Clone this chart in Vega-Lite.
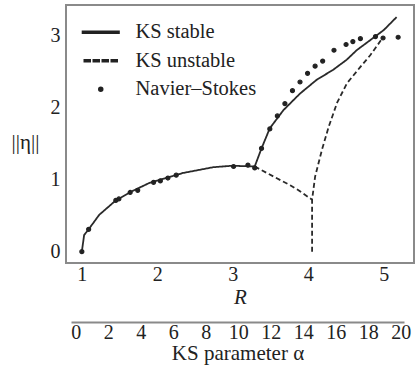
{
  "$schema": "https://vega.github.io/schema/vega-lite/v6.json",
  "width": 348,
  "height": 258,
  "autosize": {"type": "none"},
  "padding": {"left": 66, "top": 5, "right": 2, "bottom": 109},
  "background": "white",
  "config": {
    "view": {"stroke": "#8a8a8a", "strokeWidth": 2},
    "font": "Liberation Serif",
    "axis": {
      "grid": false, "ticks": false, "domain": false,
      "labelFont": "Liberation Serif", "labelFontSize": 20, "labelColor": "#222",
      "titleFont": "Liberation Serif", "titleFontSize": 21, "titleColor": "#222", "titleFontWeight": "normal"
    },
    "legend": {
      "orient": "none", "legendX": 24.5, "legendY": 17, "padding": 0,
      "labelFont": "Liberation Serif", "labelFontSize": 20.5, "labelColor": "#222",
      "labelOffset": 24.5, "rowPadding": 7.5,
      "symbolSize": 100, "symbolOpacity": 1
    }
  },
  "datasets": {
    "lines": [
      {"series": "KS stable", "seg": "s", "i": 1, "R": 1.0, "eta": 0.0},
      {"series": "KS stable", "seg": "s", "i": 2, "R": 1.03, "eta": 0.23},
      {"series": "KS stable", "seg": "s", "i": 3, "R": 1.09, "eta": 0.31},
      {"series": "KS stable", "seg": "s", "i": 4, "R": 1.23, "eta": 0.51},
      {"series": "KS stable", "seg": "s", "i": 5, "R": 1.45, "eta": 0.71},
      {"series": "KS stable", "seg": "s", "i": 6, "R": 1.67, "eta": 0.84},
      {"series": "KS stable", "seg": "s", "i": 7, "R": 1.89, "eta": 0.95},
      {"series": "KS stable", "seg": "s", "i": 8, "R": 2.11, "eta": 1.02},
      {"series": "KS stable", "seg": "s", "i": 9, "R": 2.34, "eta": 1.09},
      {"series": "KS stable", "seg": "s", "i": 10, "R": 2.74, "eta": 1.17},
      {"series": "KS stable", "seg": "s", "i": 11, "R": 2.99, "eta": 1.19},
      {"series": "KS stable", "seg": "s", "i": 12, "R": 3.29, "eta": 1.18},
      {"series": "KS stable", "seg": "s", "i": 13, "R": 3.38, "eta": 1.43},
      {"series": "KS stable", "seg": "s", "i": 14, "R": 3.49, "eta": 1.71},
      {"series": "KS stable", "seg": "s", "i": 15, "R": 3.67, "eta": 1.96},
      {"series": "KS stable", "seg": "s", "i": 16, "R": 3.89, "eta": 2.19},
      {"series": "KS stable", "seg": "s", "i": 17, "R": 4.11, "eta": 2.38},
      {"series": "KS stable", "seg": "s", "i": 18, "R": 4.33, "eta": 2.52},
      {"series": "KS stable", "seg": "s", "i": 19, "R": 4.51, "eta": 2.66},
      {"series": "KS stable", "seg": "s", "i": 20, "R": 4.64, "eta": 2.79},
      {"series": "KS stable", "seg": "s", "i": 21, "R": 4.82, "eta": 2.93},
      {"series": "KS stable", "seg": "s", "i": 22, "R": 5.0, "eta": 3.07},
      {"series": "KS stable", "seg": "s", "i": 23, "R": 5.17, "eta": 3.25},
      {"series": "KS unstable", "seg": "a", "i": 1, "R": 3.29, "eta": 1.18},
      {"series": "KS unstable", "seg": "a", "i": 2, "R": 3.45, "eta": 1.09},
      {"series": "KS unstable", "seg": "a", "i": 3, "R": 3.76, "eta": 0.92},
      {"series": "KS unstable", "seg": "a", "i": 4, "R": 3.87, "eta": 0.85},
      {"series": "KS unstable", "seg": "a", "i": 5, "R": 4.05, "eta": 0.72},
      {"series": "KS unstable", "seg": "b", "i": 1, "R": 4.05, "eta": 0.0},
      {"series": "KS unstable", "seg": "b", "i": 2, "R": 4.05, "eta": 0.72},
      {"series": "KS unstable", "seg": "b", "i": 3, "R": 4.09, "eta": 1.04},
      {"series": "KS unstable", "seg": "b", "i": 4, "R": 4.18, "eta": 1.41},
      {"series": "KS unstable", "seg": "b", "i": 5, "R": 4.27, "eta": 1.73},
      {"series": "KS unstable", "seg": "b", "i": 6, "R": 4.38, "eta": 2.06},
      {"series": "KS unstable", "seg": "b", "i": 7, "R": 4.51, "eta": 2.33},
      {"series": "KS unstable", "seg": "b", "i": 8, "R": 4.69, "eta": 2.56},
      {"series": "KS unstable", "seg": "b", "i": 9, "R": 4.82, "eta": 2.72},
      {"series": "KS unstable", "seg": "b", "i": 10, "R": 4.95, "eta": 2.91},
      {"series": "KS unstable", "seg": "b", "i": 11, "R": 4.99, "eta": 2.98}
    ],
    "ns": [
      {"series": "Navier–Stokes", "R": 1.0, "eta": 0.0},
      {"series": "Navier–Stokes", "R": 1.09, "eta": 0.31},
      {"series": "Navier–Stokes", "R": 1.45, "eta": 0.71},
      {"series": "Navier–Stokes", "R": 1.49, "eta": 0.73},
      {"series": "Navier–Stokes", "R": 1.64, "eta": 0.82},
      {"series": "Navier–Stokes", "R": 1.74, "eta": 0.85},
      {"series": "Navier–Stokes", "R": 1.95, "eta": 0.96},
      {"series": "Navier–Stokes", "R": 2.04, "eta": 0.98},
      {"series": "Navier–Stokes", "R": 2.14, "eta": 1.02},
      {"series": "Navier–Stokes", "R": 2.25, "eta": 1.06},
      {"series": "Navier–Stokes", "R": 3.01, "eta": 1.18},
      {"series": "Navier–Stokes", "R": 3.2, "eta": 1.2},
      {"series": "Navier–Stokes", "R": 3.29, "eta": 1.16},
      {"series": "Navier–Stokes", "R": 3.38, "eta": 1.43},
      {"series": "Navier–Stokes", "R": 3.49, "eta": 1.7},
      {"series": "Navier–Stokes", "R": 3.59, "eta": 1.88},
      {"series": "Navier–Stokes", "R": 3.69, "eta": 2.05},
      {"series": "Navier–Stokes", "R": 3.79, "eta": 2.23},
      {"series": "Navier–Stokes", "R": 3.89, "eta": 2.35},
      {"series": "Navier–Stokes", "R": 3.99, "eta": 2.47},
      {"series": "Navier–Stokes", "R": 4.09, "eta": 2.57},
      {"series": "Navier–Stokes", "R": 4.19, "eta": 2.64},
      {"series": "Navier–Stokes", "R": 4.34, "eta": 2.79},
      {"series": "Navier–Stokes", "R": 4.5, "eta": 2.87},
      {"series": "Navier–Stokes", "R": 4.59, "eta": 2.91},
      {"series": "Navier–Stokes", "R": 4.69, "eta": 2.95},
      {"series": "Navier–Stokes", "R": 4.89, "eta": 2.98},
      {"series": "Navier–Stokes", "R": 4.99, "eta": 2.96},
      {"series": "Navier–Stokes", "R": 5.19, "eta": 2.97}
    ],
    "alpha": [
      {"alpha": 0},
      {"alpha": 20}
    ]
  },
  "layer": [
    {
      "layer": [
        {
          "data": {"name": "lines"},
          "mark": {"type": "line", "color": "#2a2a2a", "strokeWidth": 1.8},
          "encoding": {
            "x": {
              "field": "R", "type": "quantitative",
              "scale": {"domain": [0.79, 5.4], "nice": false, "zero": false},
              "axis": {"values": [1, 2, 3, 4, 5], "format": "d", "title": "R", "titleFontStyle": "italic", "labelPadding": 1, "titlePadding": 2}
            },
            "y": {
              "field": "eta", "type": "quantitative",
              "scale": {"domain": [-0.157, 3.417], "nice": false, "zero": false},
              "axis": {"values": [0, 1, 2, 3], "format": "d", "title": "||η||", "titleAngle": 0, "titleX": -41, "titleY": 137, "titleAlign": "center", "titleBaseline": "middle", "labelPadding": 6}
            },
            "strokeDash": {
              "field": "series", "type": "nominal",
              "scale": {"domain": ["KS stable", "KS unstable"], "range": [[1, 0], [5, 3]]},
              "legend": null
            },
            "detail": {"field": "seg"},
            "order": {"field": "i", "type": "quantitative"}
          }
        },
        {
          "data": {"name": "ns"},
          "mark": {"type": "point", "filled": true, "color": "#222", "stroke": "#222", "strokeWidth": 1.2, "size": 100, "opacity": 1},
          "encoding": {
            "x": {"field": "R", "type": "quantitative"},
            "y": {"field": "eta", "type": "quantitative"},
            "shape": {
              "field": "series", "type": "nominal",
              "scale": {
                "domain": ["KS stable", "KS unstable", "Navier–Stokes"],
                "range": [
                  "M-3.66,-0.18H3.66V0.18H-3.66Z",
                  "M-3.3,-0.18H-2.1V0.18H-3.3ZM-1.5,-0.18H-0.3V0.18H-1.5ZM0.3,-0.18H1.5V0.18H0.3ZM2.1,-0.18H3.3V0.18H2.1Z",
                  "M0.4,0A0.4,0.4,0,1,1,-0.4,0A0.4,0.4,0,1,1,0.4,0Z"
                ]
              },
              "legend": {
                "title": null,
                "encode": {
                  "symbols": {
                    "update": {
                      "fill": {"value": "#2a2a2a"},
                      "stroke": {"value": "#2a2a2a"},
                      "strokeWidth": {"value": 0.4},
                      "opacity": {"value": 1}
                    }
                  }
                }
              }
            }
          }
        }
      ]
    },
    {
      "data": {"name": "alpha"},
      "mark": {"type": "point", "opacity": 0},
      "encoding": {
        "x": {
          "field": "alpha", "type": "quantitative",
          "scale": {"domain": [-0.3, 20.2], "range": [5, 338], "nice": false, "zero": false},
          "axis": {
            "orient": "bottom", "offset": 59, "domain": true, "domainColor": "#8a8a8a", "domainWidth": 2,
            "values": [0, 2, 4, 6, 8, 10, 12, 14, 16, 18, 20],
            "title": "KS parameter α", "labelPadding": 0, "titlePadding": 0, "labelFlush": false, "labelOverlap": false
          }
        }
      }
    }
  ],
  "resolve": {"scale": {"x": "independent"}, "axis": {"x": "independent"}}
}
